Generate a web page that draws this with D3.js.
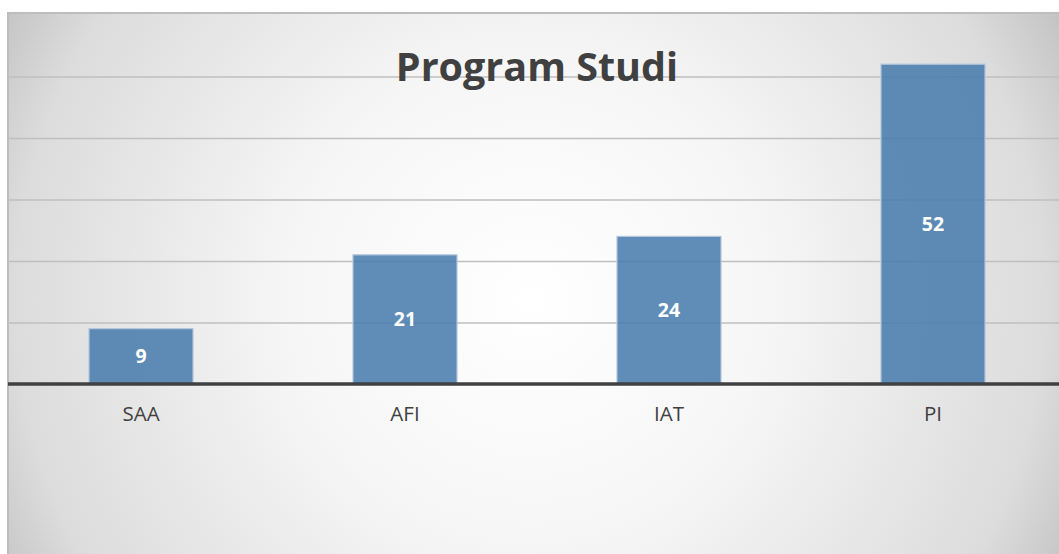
<!DOCTYPE html>
<html>
<head>
<meta charset="utf-8">
<script src="https://cdn.jsdelivr.net/npm/d3@7"></script>
<style>
  body { margin: 0; background: #fff; }
</style>
</head>
<body>
<div id="chart-container"></div>
<script>
const categories = ['SAA', 'AFI', 'IAT', 'PI']
const values = [9, 21, 24, 52]
const yTicks = [0, 10, 20, 30, 40, 50, 60]
const title = 'Program Studi'

function draw () {
  const width = 1059
  const height = 554
  const box = { x: 8, y: 13, w: 1062, h: 552 }
  const plotTop = 15
  const plotBottom = 384

  const svg = d3.select('#chart-container')
    .append('svg')
    .attr('width', width)
    .attr('height', height)
    .style('display', 'block')

  const defs = svg.append('defs')
  const grad = defs.append('radialGradient')
    .attr('id', 'bg')
    .attr('gradientUnits', 'userSpaceOnUse')
    .attr('cx', 530).attr('cy', 300).attr('r', 600)
  grad.append('stop').attr('offset', 0).attr('stop-color', '#ffffff')
  grad.append('stop').attr('offset', 0.4).attr('stop-color', '#f6f6f6')
  grad.append('stop').attr('offset', 0.86).attr('stop-color', '#dcdcdc')
  grad.append('stop').attr('offset', 1).attr('stop-color', '#c4c4c4')

  svg.append('rect')
    .attr('x', box.x).attr('y', box.y)
    .attr('width', box.w).attr('height', box.h)
    .attr('fill', 'url(#bg)')
    .attr('stroke', '#bdbdbd')
    .attr('stroke-width', 2)

  const xScale = d3.scaleBand()
    .domain(categories)
    .range([9, 1065])
    .paddingInner(0.606)
    .paddingOuter(0.303)

  const yScale = d3.scaleLinear()
    .domain([0, 60])
    .range([plotBottom, plotTop])

  // gridlines
  const grid = svg.append('g')
    .attr('transform', `translate(${box.x},0)`)
    .call(d3.axisLeft(yScale).tickValues(yTicks.filter(d => d > 0 && d < 60)).tickSize(-1060).tickFormat(''))
  grid.select('.domain').remove()
  grid.selectAll('line').attr('stroke', '#bfbfbf').attr('stroke-width', 1.5)

  // title
  svg.append('text')
    .attr('x', 537)
    .attr('y', 81)
    .attr('text-anchor', 'middle')
    .attr('font-family', 'Open Sans, sans-serif')
    .attr('font-weight', 'bold')
    .attr('font-size', 39.5)
    .attr('fill', '#404040')
    .text(title)

  // bars
  svg.selectAll('rect.bar')
    .data(values)
    .enter()
    .append('rect')
    .attr('class', 'bar')
    .attr('x', (d, i) => xScale(categories[i]))
    .attr('y', d => yScale(d))
    .attr('width', xScale.bandwidth())
    .attr('height', d => yScale(0) - yScale(d))
    .attr('fill', '#4a7dad')
    .attr('fill-opacity', 0.88)
    .attr('stroke', '#b3c6db')
    .attr('stroke-width', 1.2)

  // value labels
  svg.selectAll('text.val')
    .data(values)
    .enter()
    .append('text')
    .attr('class', 'val')
    .attr('x', (d, i) => xScale(categories[i]) + xScale.bandwidth() / 2)
    .attr('y', d => (yScale(d) + yScale(0)) / 2)
    .attr('dy', '0.36em')
    .attr('text-anchor', 'middle')
    .attr('font-family', 'Open Sans, sans-serif')
    .attr('font-weight', 'bold')
    .attr('font-size', 19.5)
    .attr('fill', '#ffffff')
    .text(d => d)

  // baseline + category labels
  const xAxis = svg.append('g')
    .attr('transform', `translate(0,${plotBottom})`)
    .call(d3.axisBottom(xScale).tickSize(0).tickPadding(22))
  xAxis.select('.domain').remove()
  xAxis.selectAll('text')
    .attr('font-family', 'Open Sans, sans-serif')
    .attr('font-size', 20.5)
    .attr('fill', '#404040')

  svg.append('line')
    .attr('x1', box.x).attr('x2', width)
    .attr('y1', yScale(0)).attr('y2', yScale(0))
    .attr('stroke', '#404040')
    .attr('stroke-width', 3.5)
}

draw()
</script>
</body>
</html>
